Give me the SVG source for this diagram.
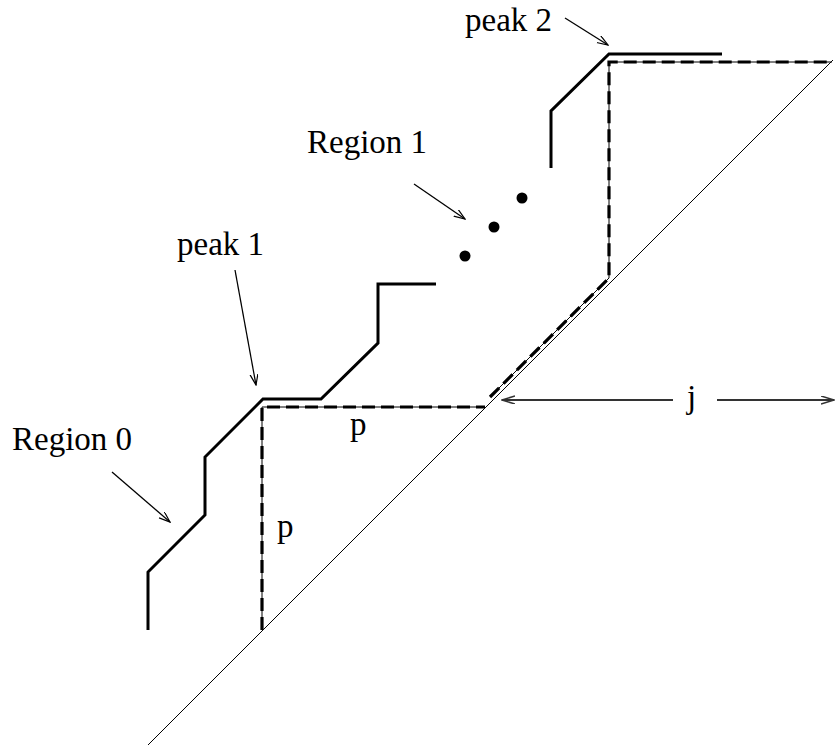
<svg xmlns="http://www.w3.org/2000/svg" width="835" height="751" viewBox="0 0 835 751">
<style>
text{font-family:"Liberation Serif","Times New Roman",serif;font-size:33px;fill:#000}
.thick{fill:none;stroke:#000;stroke-width:3;stroke-linejoin:miter}
.thin{fill:none;stroke:#000;stroke-width:1}
.dash{fill:none;stroke:#000;stroke-width:3.2;stroke-dasharray:13 6}
.arr{fill:none;stroke:#000;stroke-width:1.3}
.jarr{fill:none;stroke:#333;stroke-width:2}
</style>
<defs>
<marker id="ah" markerWidth="12" markerHeight="10" refX="11" refY="4" orient="auto" markerUnits="userSpaceOnUse">
<path d="M0,0 L11,4 L0,8" fill="none" stroke="#000" stroke-width="1.2"/>
</marker>
<marker id="ahj" markerWidth="14" markerHeight="10" refX="13" refY="4" orient="auto" markerUnits="userSpaceOnUse">
<path d="M0,0 L13,4 L0,8" fill="none" stroke="#333" stroke-width="1.5"/>
</marker>
</defs>
<g id="diagonal"><path class="thin" d="M148,745 L833,60"/></g>
<g id="profile">
<path class="thick" d="M148,630 L148,572 L205,515 L205,457 L263,399 L321,399 L378,343 L378,284 L436,284"/>
<path class="thick" d="M551,168 L551,111 L609,54 L722,54"/>
<circle cx="465" cy="256" r="5.5" fill="#000"/>
<circle cx="494" cy="227" r="5.5" fill="#000"/>
<circle cx="522" cy="198" r="5.5" fill="#000"/>
</g>
<g id="dashed">
<path class="thin" d="M262,630 L262,407 L485,407"/>
<path class="dash" d="M262,630 L262,407 L485,407"/>
<path class="thin" d="M490,397 L609,278 L609,62 L832,62"/>
<path class="dash" d="M490,397 L609,278 L609,62 L832,62"/>
</g>
<g id="connectors">
<path class="arr" d="M112,472 L170,522" marker-end="url(#ah)"/>
<path class="arr" d="M235,270 L256,385" marker-end="url(#ah)"/>
<path class="arr" d="M414,184 L465,219" marker-end="url(#ah)"/>
<path class="arr" d="M565,18 L608,45" marker-end="url(#ah)"/>
<path class="jarr" d="M673,400 L502,400" marker-end="url(#ahj)"/>
<path class="jarr" d="M717,400 L834,400" marker-end="url(#ahj)"/>
</g>
<g id="labels">
<text x="12" y="450">Region 0</text>
<text x="177" y="255">peak 1</text>
<text x="307" y="153">Region 1</text>
<text x="465" y="31">peak 2</text>
<text x="350" y="435">p</text>
<text x="277" y="537">p</text>
<text x="687" y="408">j</text>
</g>
</svg>
